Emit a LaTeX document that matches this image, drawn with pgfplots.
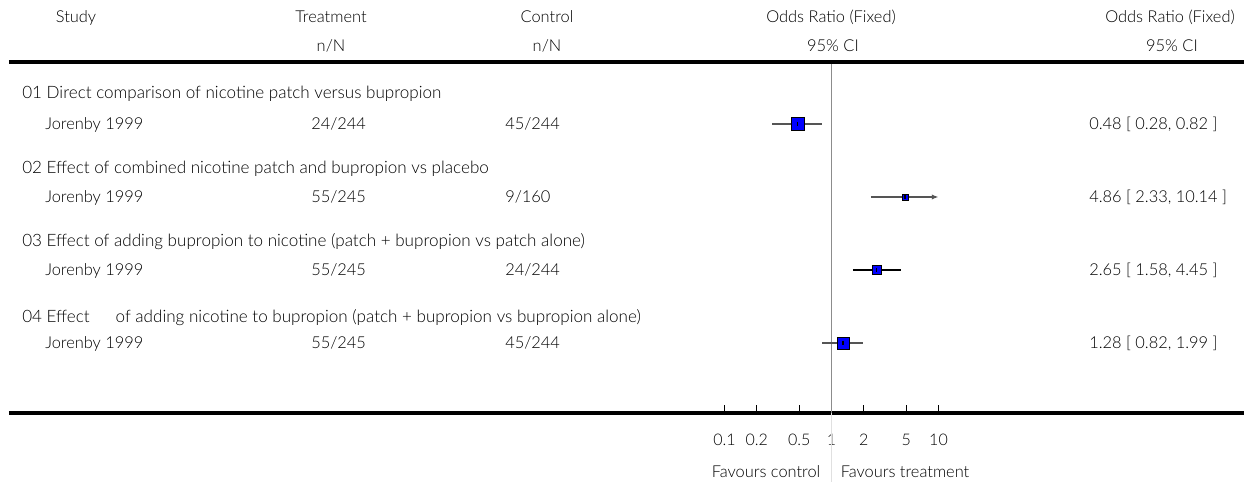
\documentclass[border=0pt]{standalone}
\usepackage{pgfplots}
\pgfplotsset{compat=1.18}
\usepackage{fontspec}
\setmainfont{Lato}[UprightFont={* Light}]
\usetikzlibrary{arrows.meta}

\definecolor{ciline}{RGB}{85,85,85}

\begin{document}
\begin{tikzpicture}[font=\fontsize{12.3}{14}\selectfont]
\begin{axis}[scale only axis, width=926.25pt, height=263.25pt,
  xmode=log, xmin=2.056e-8, xmax=7163, ymin=69, ymax=420,
  axis x line=bottom, axis y line=none,
  x axis line style={-, line width=3pt},
  xtick={0.1,0.2,0.5,1,2,5,10}, xticklabels={0.1,0.2,0.5,1,2,5,10},
  xminorticks=false, tick align=inside, major tick length=6pt,
  xtick style={line width=1.1pt, black},
  xticklabel style={font=\fontsize{12}{14}\selectfont, anchor=base, yshift=-24pt},
  clip=false]
% line of no effect
\addplot[black!45, line width=0.75pt] coordinates {(1,69)(1,420)};
\addplot[black!12, line width=0.75pt] coordinates {(1,0)(1,69)};
% top rule
\addplot[black, line width=3pt] coordinates {(2.056e-8,420)(7163,420)};
% confidence intervals
\addplot[ciline, line width=1pt] coordinates {(0.28,358)(0.82,358)};
\addplot[ciline, line width=1pt, -{Latex[length=5pt,width=4pt]}] coordinates {(2.33,285)(10,285)};
\addplot[black, line width=1pt] coordinates {(1.58,212)(4.45,212)};
\addplot[ciline, line width=1pt] coordinates {(0.82,139)(1.99,139)};
% point estimates
\addplot[only marks, mark=square*, mark size=4.9pt, mark options={draw=none, fill=blue}] coordinates {(0.48,358)};
\addplot[only marks, mark=square*, mark size=2.25pt, mark options={draw=none, fill=blue}] coordinates {(4.86,285)};
\addplot[only marks, mark=square*, mark size=3.4pt, mark options={draw=none, fill=blue}] coordinates {(2.65,212)};
\addplot[only marks, mark=square*, mark size=4.5pt, mark options={draw=none, fill=blue}] coordinates {(1.28,139)};
\addplot[only marks, mark=|, mark size=1.8pt, mark options={black, line width=0.8pt}] coordinates {(0.48,358)(4.86,285)(2.65,212)(1.28,139)};
\coordinate (C) at (axis cs:1,482);
\end{axis}
\begin{scope}[shift={(C)}, xshift=-623.625pt, x=0.75pt, y=-0.75pt, yshift=-1.5pt, every node/.style={inner sep=0pt}]
% header
\node[anchor=mid] at (76,17) {Study};
\node[anchor=mid] at (331,17) {Treatment};
\node[anchor=mid] at (331,46) {n/N};
\node[anchor=mid] at (547,17) {Control};
\node[anchor=mid] at (547,46) {n/N};
\node[anchor=mid] at (831,17) {Odds Ratio (Fixed)};
\node[anchor=mid] at (833,46) {95\% CI};
\node[anchor=mid] at (1170,17) {Odds Ratio (Fixed)};
\node[anchor=mid] at (1172,46) {95\% CI};
% groups
\begin{scope}[every node/.append style={font=\fontsize{12.8}{14}\selectfont}]
\node[anchor=mid west] at (22,93) {01 Direct comparison of nicotine patch versus bupropion};
\node[anchor=mid west] at (22,168) {02 Effect of combined nicotine patch and bupropion vs placebo};
\node[anchor=mid west] at (22,241) {03 Effect of adding bupropion to nicotine (patch + bupropion vs patch alone)};
\node[anchor=mid west] at (22,317) {04 Effect\hspace{16pt} of adding nicotine to bupropion (patch + bupropion vs bupropion alone)};
\end{scope}
% studies
\foreach \py/\tr/\co/\res in {124/24\slash 244/45\slash 244/{0.48 [ 0.28, 0.82 ]},
                              197/55\slash 245/9\slash 160/{4.86 [ 2.33, 10.14 ]},
                              270/55\slash 245/24\slash 244/{2.65 [ 1.58, 4.45 ]},
                              343/55\slash 245/45\slash 244/{1.28 [ 0.82, 1.99 ]}}{
  \node[anchor=mid west] at (45,\py) {Jorenby 1999};
  \node[anchor=mid west] at (311,\py) {\tr};
  \node[anchor=mid west] at (505,\py) {\co};
  \node[anchor=mid west] at (1089,\py) {\res};
}
% footer
\node[anchor=mid] at (766,472) {Favours control};
\node[anchor=mid] at (905,472) {Favours treatment};
\end{scope}
\begin{scope}[shift={(C)}, xshift=-623.625pt, x=0.75pt, y=-0.75pt]
\pgfresetboundingbox
\path (0,0) rectangle (1244,482);
\end{scope}
\end{tikzpicture}
\end{document}
